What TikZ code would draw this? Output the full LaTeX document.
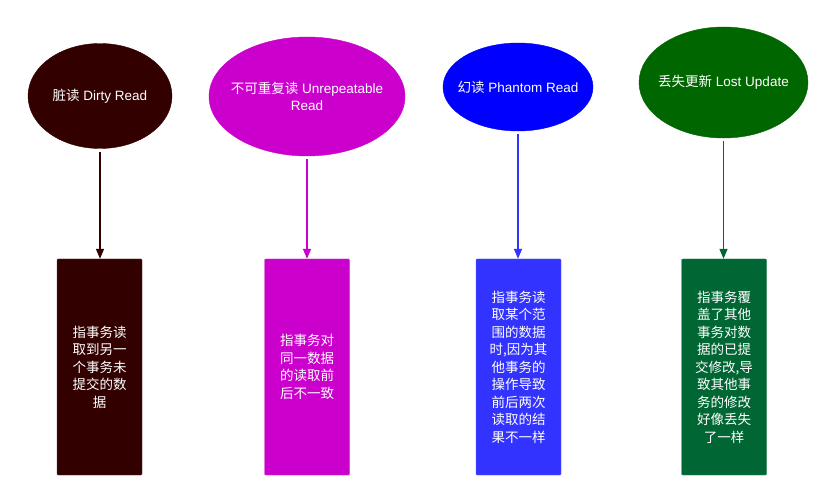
\documentclass[tikz,border=0pt]{standalone}
\usepackage{fontspec}
\setmainfont{Liberation Sans}
\newfontfamily\cjk{Noto Sans CJK SC}
\usetikzlibrary{shapes.geometric,arrows.meta}
\definecolor{cA}{HTML}{330000}
\definecolor{cB}{HTML}{CC00CC}
\definecolor{cC}{HTML}{0000FF}
\definecolor{cCb}{HTML}{3333FF}
\definecolor{cD}{HTML}{006600}
\definecolor{cDb}{HTML}{006633}
\tikzset{
  ell/.style={ellipse, inner sep=0pt},
  elltext/.style={text=white, align=center, inner sep=0pt,
    font=\fontsize{13.5}{16.5}\selectfont},
  descbox/.style={rectangle, rounded corners=1pt, inner sep=0pt,
    minimum width=85pt, minimum height=216pt, text=white, align=center,
    font=\fontsize{13.5}{17.5}\selectfont\cjk},
  conn/.style={line width=1.4pt, -{Triangle[length=10pt,width=8pt]}},
}
\begin{document}
\begin{tikzpicture}[x=1pt,y=-1pt]
\useasboundingbox[fill=white] (0,0) rectangle (834,502);
% ellipses
\node[ell, fill=cA, draw=cA, minimum width=144pt, minimum height=105pt,
  label={[elltext]center:{\cjk 脏读} Dirty Read}] (e1) at (100,96) {};
\node[ell, fill=cB, draw=cB, minimum width=196pt, minimum height=119pt,
  label={[elltext]center:{\cjk 不可重复读} Unrepeatable\\Read}] (e2) at (307,96.5) {};
\node[ell, fill=cC, draw=cC, minimum width=150pt, minimum height=88pt,
  label={[elltext]center:{\cjk 幻读} Phantom Read}] (e3) at (518,87) {};
\node[ell, fill=cD, draw=cD, minimum width=169pt, minimum height=111pt,
  label={[elltext]center:{\cjk 丢失更新} Lost Update}] (e4) at (723.5,82.5) {};
% boxes
\node[descbox, fill=cA, draw=cA!80!white] (b1) at (99.5,367) {指事务读\\取到另一\\个事务未\\提交的数\\据};
\node[descbox, fill=cB, draw=cB!80!white] (b2) at (307,367) {指事务对\\同一数据\\的读取前\\后不一致};
\node[descbox, fill=cCb, draw=cCb!80!white] (b3) at (518.5,367) {指事务读\\取某个范\\围的数据\\时,因为其\\他事务的\\操作导致\\前后两次\\读取的结\\果不一样};
\node[descbox, fill=cDb, draw=cDb!80!white] (b4) at (724,367) {指事务覆\\盖了其他\\事务对数\\据的已提\\交修改,导\\致其他事\\务的修改\\好像丢失\\了一样};
% connectors
\draw[conn, cA] (e1.south) ++(0,3) coordinate (s1) -- (s1 |- b1.north);
\draw[conn, cB] (e2.south) ++(0,3) coordinate (s2) -- (s2 |- b2.north);
\draw[conn, cCb] (e3.south) ++(0,3) coordinate (s3) -- (s3 |- b3.north);
\draw[conn, cDb] (e4.south) ++(0,3) coordinate (s4) -- (s4 |- b4.north);
\end{tikzpicture}
\end{document}
